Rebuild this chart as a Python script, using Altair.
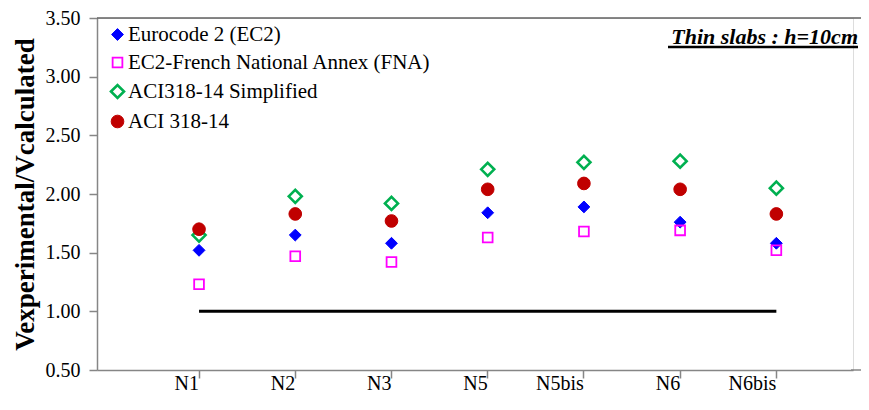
import altair as alt
import pandas as pd

categories = ["N1", "N2", "N3", "N5", "N5bis", "N6", "N6bis"]
series_names = ["Eurocode 2 (EC2)", "EC2-French National Annex (FNA)",
                "ACI318-14 Simplified", "ACI 318-14"]
ec2 = [1.52, 1.65, 1.58, 1.84, 1.89, 1.76, 1.58]
fna = [1.23, 1.47, 1.42, 1.63, 1.68, 1.69, 1.52]
aci_simplified = [1.65, 1.98, 1.92, 2.21, 2.27, 2.28, 2.05]
aci = [1.70, 1.83, 1.77, 2.04, 2.09, 2.04, 1.83]
y_ticks = [0.5, 1.0, 1.5, 2.0, 2.5, 3.0, 3.5]
reference_value = 1.0
annotation = "Thin slabs : h=10cm"

rows = []
for name, vals in zip(series_names, [ec2, fna, aci_simplified, aci]):
    for c, v in zip(categories, vals):
        rows.append({"Specimen": c, "Series": name, "Ratio": v})
df = pd.DataFrame(rows)
df["order"] = df["Series"].map({n: i for i, n in enumerate(series_names)})

ref_df = pd.DataFrame([{"x": categories[0], "x2": categories[-1], "y": reference_value}])
ann_df = pd.DataFrame([{"label": annotation}])

FONT = "Liberation Serif"
W, H = 756, 352
EXT = W + 8

x_scale = alt.Scale(domain=categories, padding=0.857, align=0.577)
y_scale = alt.Scale(domain=[y_ticks[0], y_ticks[-1]], nice=False, zero=False)

points = alt.Chart(df).mark_point(opacity=1).encode(
    x=alt.X("Specimen:N", scale=x_scale, sort=categories,
            axis=alt.Axis(title=None, labelAngle=0, labelFont=FONT, labelFontSize=20,
                          labelColor="black", labelPadding=5, tickSize=8,
                          tickColor="#868686", domainColor="#868686", domainWidth=1.5,
                          tickWidth=1.5)),
    y=alt.Y("Ratio:Q", scale=y_scale,
            axis=alt.Axis(title="Vexperimental/Vcalculated", values=y_ticks, format=".2f",
                          grid=False, labelFont=FONT, labelFontSize=20, labelColor="black",
                          labelPadding=9, tickSize=8, tickColor="#868686",
                          domainColor="#868686", domainWidth=1.5, tickWidth=1.5,
                          titleFont=FONT, titleFontSize=27, titleFontWeight="bold",
                          titleColor="black", titleX=-72, titleY=H / 2,
                          titleAlign="center", titleBaseline="middle", titleAngle=270)),
    shape=alt.Shape("Series:N", sort=series_names,
                    scale=alt.Scale(domain=series_names,
                                    range=["diamond", "square", "diamond", "circle"]),
                    legend=alt.Legend(title=None, orient="none", legendX=10, legendY=6,
                                      labelFont=FONT, labelFontSize=21, labelColor="black",
                                      labelLimit=0, rowPadding=6, labelOffset=0, padding=0,
                                      symbolOpacity=1)),
    stroke=alt.Stroke("Series:N", sort=series_names,
                      scale=alt.Scale(domain=series_names,
                                      range=["#0000FF", "#FF00FF", "#00B050", "#C00000"])),
    fill=alt.Fill("Series:N", sort=series_names,
                  scale=alt.Scale(domain=series_names,
                                  range=["#0000FF", "transparent", "transparent", "#C00000"])),
    size=alt.Size("Series:N", sort=series_names,
                  scale=alt.Scale(type="ordinal", domain=series_names,
                                  range=[140, 95, 170, 160])),
    strokeWidth=alt.StrokeWidth("Series:N", sort=series_names,
                                scale=alt.Scale(type="ordinal", domain=series_names,
                                                range=[1, 1.8, 2.6, 1])),
    order=alt.Order("order:Q"),
)

ref_line = alt.Chart(ref_df).mark_rule(color="black", strokeWidth=3).encode(
    x=alt.X("x:N", scale=x_scale, sort=categories),
    x2="x2:N",
    y=alt.Y("y:Q", scale=y_scale),
)

top_line = alt.Chart(ann_df).mark_rule(color="#606060", strokeWidth=1.5).encode(
    x=alt.value(0), x2=alt.value(EXT), y=alt.datum(y_ticks[-1])
)

bottom_ext = alt.Chart(ann_df).mark_rule(color="#868686", strokeWidth=1.5).encode(
    x=alt.value(W - 2), x2=alt.value(EXT), y=alt.datum(y_ticks[0])
)

ann_text = alt.Chart(ann_df).mark_text(
    align="right", baseline="middle", font=FONT, fontSize=22,
    fontStyle="italic", fontWeight="bold", color="black"
).encode(text="label:N", x=alt.value(761), y=alt.value(19))

ann_line = alt.Chart(ann_df).mark_rule(color="black", strokeWidth=2.5).encode(
    x=alt.value(571), x2=alt.value(761), y=alt.value(29)
)

chart = alt.layer(top_line, bottom_ext, ref_line, points, ann_text, ann_line).properties(
    width=W, height=H,
    autosize=alt.AutoSizeParams(type="none"),
    padding={"left": 89, "top": 10, "right": 8, "bottom": 30},
).configure_view(stroke=None).configure(background="white")

chart.save("out.html", embed_options={"renderer": "svg", "actions": False})
